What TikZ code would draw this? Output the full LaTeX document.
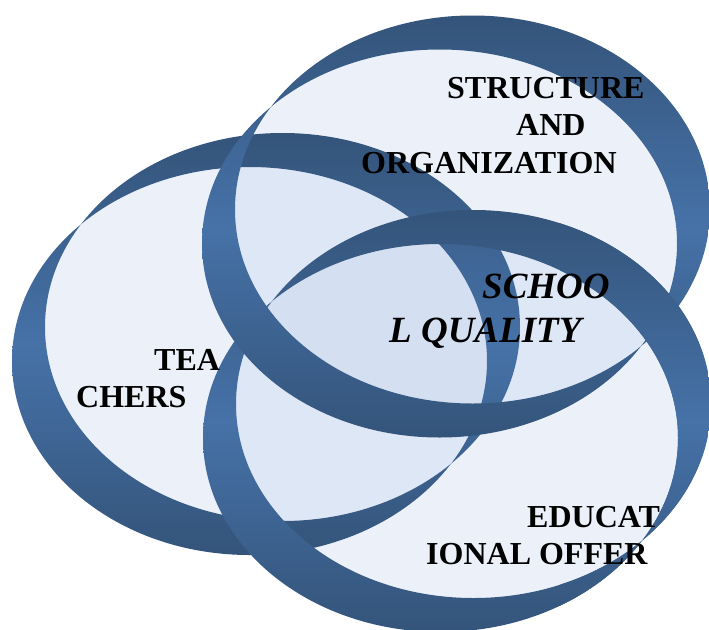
\documentclass[tikz,border=0pt]{standalone}
\usepackage{fontspec}
\setmainfont{Liberation Serif}
\definecolor{bandDark}{RGB}{52,84,122}
\definecolor{bandLight}{RGB}{70,114,168}
\definecolor{holeFill}{RGB}{182,201,232}
\tikzset{
  hole/.style={fill=holeFill, fill opacity=0.26},
  band/.style={even odd rule, top color=bandDark, bottom color=bandDark, middle color=bandLight, draw=none},
  lbl/.style={font=\fontsize{32}{38}\selectfont\bfseries, anchor=base west, inner sep=0pt, text=black},
  lblit/.style={font=\fontsize{37}{43}\selectfont\bfseries\itshape, anchor=base west, inner sep=0pt, text=black},
  er/.style={x radius=237.5pt, y radius=194pt}
}
\begin{document}
\begin{tikzpicture}[x=1pt,y=-1pt]
\useasboundingbox (0,0) rectangle (709,629);
% interiors
\begin{scope}\clip (282.5,327) ellipse [er]; \fill[hole] (249.5,361) ellipse [er];\end{scope}
\begin{scope}\clip (472.5,209.5) ellipse [er]; \fill[hole] (439.5,243.5) ellipse [er];\end{scope}
\begin{scope}\clip (473.5,404) ellipse [er]; \fill[hole] (440.5,438) ellipse [er];\end{scope}
% bands
\shade[band] (282.5,327) ellipse [er] (249.5,361) ellipse [er];
\shade[band] (473.5,404) ellipse [er] (440.5,438) ellipse [er];
\shade[band] (472.5,209.5) ellipse [er] (439.5,243.5) ellipse [er];
\begin{scope}
\clip (560,0) rectangle (709,629);
\shade[band] (473.5,404) ellipse [er] (440.5,438) ellipse [er];
\end{scope}
% labels
\node[lbl] (s1) at (447,98) {STRUCTURE};
\node[lbl] (s2) at (516,135) {AND};
\node[lbl] (s3) at (361,173) {ORGANIZATION};
\node[lblit] (q1) at (482,298) {SCHOO};
\node[lblit] (q2) at (389,342) {L QUALITY};
\node[lbl] (t1) at (154,370) {TEA};
\node[lbl] (t2) at (76,407) {CHERS};
\node[lbl] (e1) at (527,527) {EDUCAT};
\node[lbl] (e2) at (426,564) {IONAL OFFER};
\end{tikzpicture}
\end{document}
